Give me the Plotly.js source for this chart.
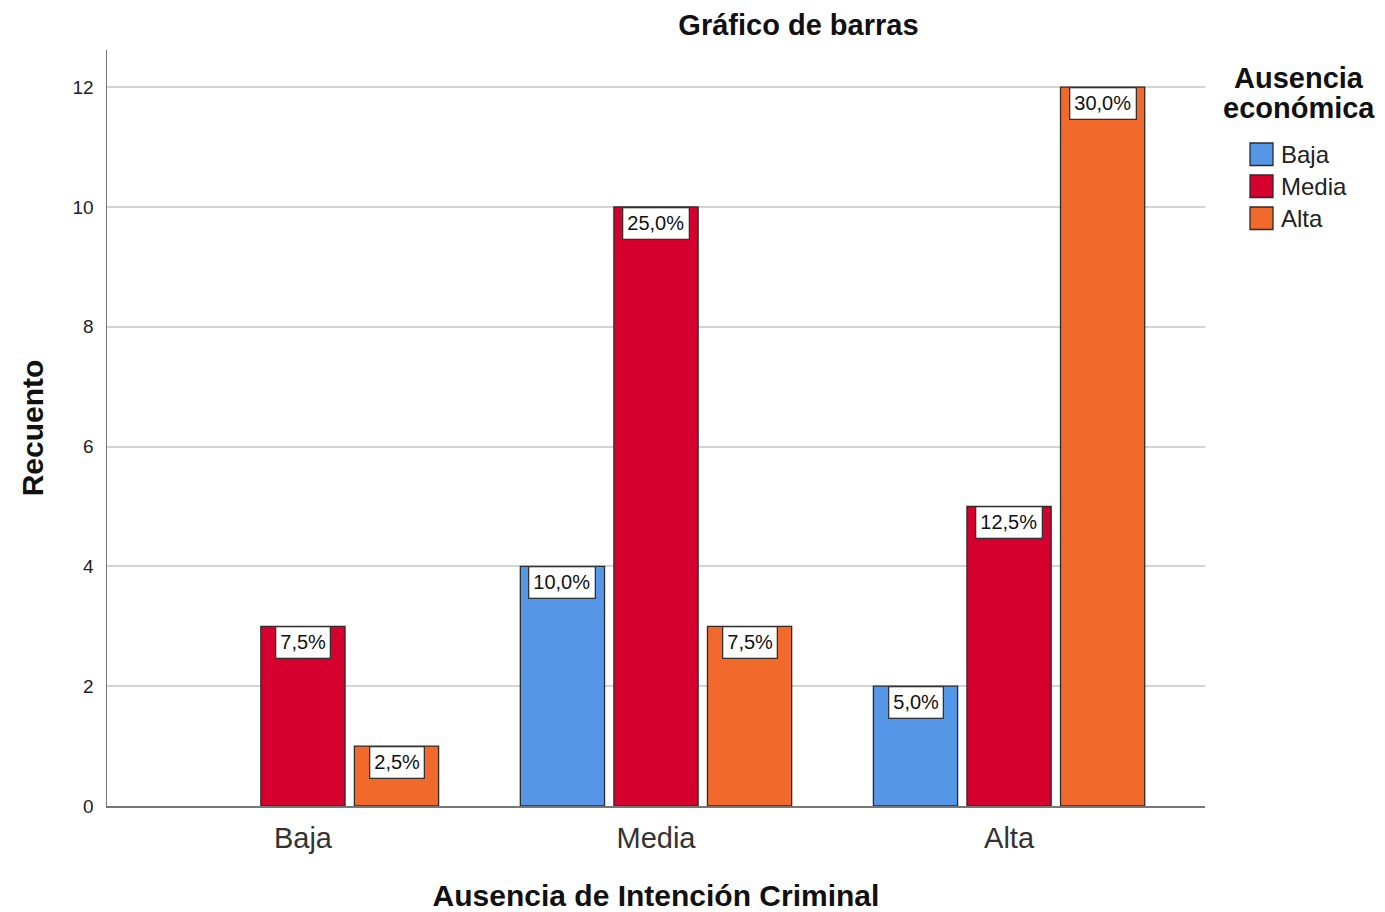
<!DOCTYPE html>
<html>
<head>
<meta charset="utf-8">
<script src="https://cdn.plot.ly/plotly-3.0.1.min.js"></script>
<style>html,body{margin:0;padding:0;background:#fff;}#chart{width:1385px;height:912px;}</style>
</head>
<body>
<div id="chart"></div>
<script>
const categories = ["Baja", "Media", "Alta"];
const seriesNames = ["Baja", "Media", "Alta"];
const valuesBaja = [0, 4, 2];
const valuesMedia = [3, 10, 5];
const valuesAlta = [1, 3, 12];
const seriesColors = ["#5596e6", "#d6002f", "#f26a2b"];
const yTicks = [0, 2, 4, 6, 8, 10, 12];

const allSeries = [valuesBaja, valuesMedia, valuesAlta];
const total = allSeries.flat().reduce((a, b) => a + b, 0);

const FONT = '"Liberation Sans", Arial, sans-serif';

const traces = allSeries.map((vals, j) => ({
  type: 'bar',
  name: seriesNames[j],
  x: categories,
  y: vals.map(v => (v > 0 ? v : null)),
  marker: {color: seriesColors[j], line: {color: '#2b2b2b', width: 1.3}},
  showlegend: false,
  hoverinfo: 'skip'
}));

const slot = 0.265;
const annotations = [];
allSeries.forEach((vals, j) => {
  vals.forEach((v, i) => {
    if (v <= 0) return;
    const pct = (v / total * 100).toFixed(1).replace('.', ',') + '%';
    annotations.push({
      xref: 'x', yref: 'y', x: i + (j - 1) * slot, y: v,
      yanchor: 'top', xanchor: 'center', yshift: 0,
      text: pct, showarrow: false,
      font: {family: FONT, size: 20, color: '#111'},
      bgcolor: '#ffffff', bordercolor: '#333', borderwidth: 1.3, borderpad: 4
    });
  });
});

// manual legend
const L = 107, W = 1098, B = 806, H = 756;
const px = x => (x - L) / W;
const py = y => (B - y) / H;
[['Ausencia', 78], ['económica', 108]].forEach(([t, yc]) => {
  annotations.push({
    xref: 'paper', yref: 'paper', x: px(1299), y: py(yc), xanchor: 'center', yanchor: 'middle',
    text: '<b>' + t + '</b>', showarrow: false,
    font: {family: FONT, size: 29, color: '#111'}
  });
});
const shapes = [];
seriesNames.forEach((n, j) => {
  const top = 143 + j * 32;
  shapes.push({
    type: 'rect', xref: 'paper', yref: 'paper',
    x0: px(1250), x1: px(1273), y0: py(top), y1: py(top + 22.5),
    fillcolor: seriesColors[j], line: {color: '#2b2b2b', width: 1.3}
  });
  annotations.push({
    xref: 'paper', yref: 'paper', x: px(1279), y: py(top + 12), xanchor: 'left', yanchor: 'middle',
    text: n, showarrow: false, font: {family: FONT, size: 24, color: '#222'}
  });
});

const layout = {
  width: 1385, height: 912,
  margin: {l: 107, r: 180, t: 50, b: 106},
  paper_bgcolor: '#fff', plot_bgcolor: '#fff',
  title: {text: '<b>Gráfico de barras</b>', x: 0.5765, xanchor: 'center', y: 0.973, yanchor: 'middle',
          font: {family: FONT, size: 29, color: '#111'}},
  barmode: 'group', bargap: 0.205, bargroupgap: 0.1,
  xaxis: {
    type: 'category', range: [-0.555, 2.555],
    showline: true, linecolor: '#777', linewidth: 1.5, ticks: '', showgrid: false,
    tickfont: {family: FONT, size: 29, color: '#333'}, ticklabelstandoff: 6,
    title: {text: '<b>Ausencia de Intención Criminal</b>', font: {family: FONT, size: 30, color: '#111'}, standoff: 32}
  },
  yaxis: {
    range: [0, 12.62], tickvals: yTicks, ticks: '',
    showline: true, linecolor: '#777', linewidth: 1.5,
    gridcolor: '#d4d4d4', gridwidth: 2, zeroline: false,
    tickfont: {family: FONT, size: 19, color: '#222'}, ticklabelstandoff: 8,
    title: {text: '<b>Recuento</b>', font: {family: FONT, size: 30, color: '#111'}, standoff: 20}
  },
  annotations: annotations,
  shapes: shapes,
  showlegend: false
};

Plotly.newPlot('chart', traces, layout, {displayModeBar: false, staticPlot: true});
</script>
</body>
</html>
